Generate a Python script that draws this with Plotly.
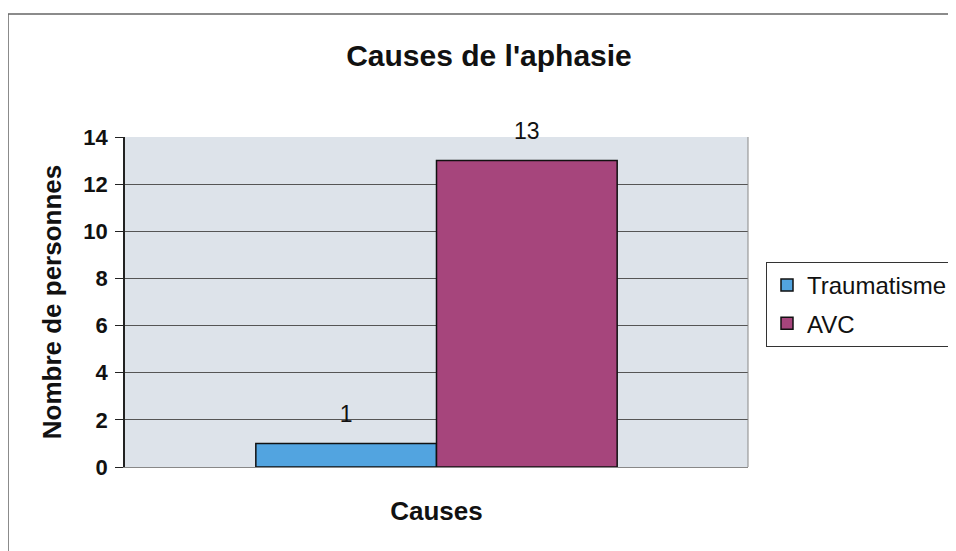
import plotly.graph_objects as go

categories = ["Causes"]
series_names = ["Traumatisme", "AVC"]
traumatisme = [1]
avc = [13]
y_ticks = [0, 2, 4, 6, 8, 10, 12, 14]

FONT = "Arial, Liberation Sans, sans-serif"
colors = {"Traumatisme": "#52A4E0", "AVC": "#A6457C"}

fig = go.Figure()
for name, vals in zip(series_names, [traumatisme, avc]):
    fig.add_trace(go.Bar(
        x=categories, y=vals, name=name, legendgroup=name,
        marker=dict(color=colors[name], line=dict(color="#111111", width=1.5)),
        text=vals,
        texttemplate="<span style='font-size:23px'>%{y}</span><br> ",
        textposition="outside",
        textfont=dict(family=FONT, size=12, color="#111111"),
        cliponaxis=False,
    ))

# page body has an 8px offset in the browser
OFF = 8
W, H = 956 - OFF, 551 - OFF
L, R, T, B = 125 - OFF, 748 - OFF, 137 - OFF, 467 - OFF
pw, ph = R - L, B - T

fig.update_layout(
    width=W, height=H,
    margin=dict(l=L, r=W - R, t=T, b=H - B, autoexpand=False),
    paper_bgcolor="white", plot_bgcolor="#DDE3EA",
    barmode="group", bargap=0.42, bargroupgap=0,
    font=dict(family=FONT, color="#111111"),
    title=dict(text="<b>Causes de l'aphasie</b>", x=(489 - OFF) / W, xanchor="center",
               y=1 - (55 - OFF) / H, yanchor="middle", xref="container", yref="container",
               font=dict(size=30, family=FONT, color="#111111")),
    legend=dict(x=(766 - 125) / pw, y=(467 - 262) / ph, xanchor="left", yanchor="top",
                bordercolor="#333333", borderwidth=1, bgcolor="white",
                traceorder="grouped", tracegroupgap=4,
                font=dict(size=24, family=FONT, color="#111111")),
    showlegend=True,
)
fig.update_yaxes(range=[0, 14], tickvals=y_ticks, showgrid=True, gridcolor="#555555", gridwidth=1,
                 showline=True, linecolor="#222222", linewidth=1.5,
                 ticks="outside", ticklen=8, tickcolor="#222222", ticklabelstandoff=3,
                 tickfont=dict(size=22, family=FONT, color="#111111", weight="bold"),
                 title=dict(text="<b>Nombre de personnes</b>", standoff=14,
                            font=dict(size=26, family=FONT, color="#111111")),
                 zeroline=False, mirror=False)
fig.update_xaxes(showticklabels=False, showline=True, linecolor="#888888", linewidth=1,
                 ticks="",
                 title=dict(text="<b>Causes</b>", standoff=34,
                            font=dict(size=26, family=FONT, color="#111111")))
# right border of plot area
fig.add_shape(type="line", xref="paper", yref="paper", x0=1, x1=1, y0=0, y1=1,
              line=dict(color="#888888", width=1))
# outer chart frame
fig.add_shape(type="rect", xref="paper", yref="paper",
              x0=(8 - 125) / pw, x1=(990 - 125) / pw, y0=-(620 - 467) / ph, y1=(467 - 14) / ph,
              line=dict(color="#666666", width=1.5), layer="below")

fig.write_html("out.html")
